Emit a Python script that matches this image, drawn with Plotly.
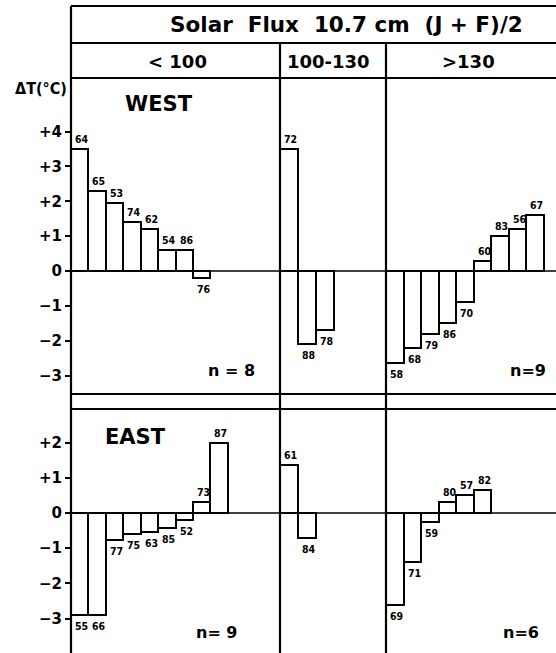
import plotly.graph_objects as go

W, H = 556, 653

# ---------------- data ----------------
flux_groups = ["< 100", "100-130", ">130"]
title_text = "Solar\u00a0 Flux\u00a0 10.7\u00a0cm\u00a0 (J\u00a0+\u00a0F)/2"

west_lt100_labels = ["64", "65", "53", "74", "62", "54", "86", "76"]
west_lt100_values = [3.5, 2.3, 1.95, 1.4, 1.2, 0.6, 0.6, -0.2]
west_mid_labels = ["72", "88", "78"]
west_mid_values = [3.5, -2.1, -1.7]
west_gt130_labels = ["58", "68", "79", "86", "70", "60", "83", "56", "67"]
west_gt130_values = [-2.65, -2.2, -1.8, -1.5, -0.9, 0.3, 1.0, 1.2, 1.6]

east_lt100_labels = ["55", "66", "77", "75", "63", "85", "52", "73", "87"]
east_lt100_values = [-2.9, -2.9, -0.78, -0.6, -0.55, -0.42, -0.2, 0.3, 2.0]
east_mid_labels = ["61", "84"]
east_mid_values = [1.35, -0.7]
east_gt130_labels = ["69", "71", "59", "80", "57", "82"]
east_gt130_values = [-2.6, -1.4, -0.25, 0.3, 0.5, 0.65]

n_west = ["n = 8", None, "n=9"]
n_east = ["n= 9", None, "n=6"]

west_tickvals = [4, 3, 2, 1, 0, -1, -2, -3]
west_ticktext = ["+4", "+3", "+2", "+1", "0", "\u22121", "\u22122", "\u22123"]
east_tickvals = [2, 1, 0, -1, -2, -3]
east_ticktext = ["+2", "+1", "0", "\u22121", "\u22122", "\u22123"]

# ---------------- layout geometry (pixels) ----------------
def px(x):
    return x / W

def py(y):
    return 1 - y / H

cols_px = [(71, 280), (280, 386), (386, 556)]
rows = [
    dict(name="WEST", px=(78, 394), yr=(-3.528, 5.537),
         series=[(west_lt100_labels, west_lt100_values),
                 (west_mid_labels, west_mid_values),
                 (west_gt130_labels, west_gt130_values)],
         n=n_west, tv=west_tickvals, tt=west_ticktext,
         n_pos=[(231, 370), None, (528, 370)], lab_pos=(123, 104)),
    dict(name="EAST", px=(409, 653), yr=(-3.977, 2.955),
         series=[(east_lt100_labels, east_lt100_values),
                 (east_mid_labels, east_mid_values),
                 (east_gt130_labels, east_gt130_values)],
         n=n_east, tv=east_tickvals, tt=east_ticktext,
         n_pos=[(217, 632), None, (521, 632)], lab_pos=(103, 437)),
]
xranges = [(-0.5, 11.5), (-0.5, 5.4), (-0.5, 9.19)]

FONT = "DejaVu Sans, Liberation Sans, Arial, sans-serif"
COND = "DejaVu Sans Condensed, Liberation Sans Narrow, DejaVu Sans, sans-serif"

fig = go.Figure()
layout = {}
annotations = []
shapes = []

k = 0
for r in rows:
    for c in range(3):
        k += 1
        xn = "x" if k == 1 else f"x{k}"
        yn = "y" if k == 1 else f"y{k}"
        xkey = "xaxis" if k == 1 else f"xaxis{k}"
        ykey = "yaxis" if k == 1 else f"yaxis{k}"
        labels, values = r["series"][c]
        fig.add_trace(go.Bar(
            x=list(range(len(values))), y=values, width=1,
            marker=dict(color="white", line=dict(color="black", width=2)),
            xaxis=xn, yaxis=yn, showlegend=False, hoverinfo="skip"))
        layout[xkey] = dict(domain=[px(cols_px[c][0]), px(cols_px[c][1])],
                            range=list(xranges[c]), anchor=yn, visible=False,
                            fixedrange=True)
        ydict = dict(domain=[py(r["px"][1]), py(r["px"][0])],
                     range=list(r["yr"]), anchor=xn, fixedrange=True,
                     showgrid=False, zeroline=False, showline=False)
        if c == 0:
            ydict.update(tickvals=r["tv"], ticktext=r["tt"], ticks="outside",
                         ticklen=5, tickwidth=2, tickcolor="black",
                         tickfont=dict(family=FONT, size=15, color="black",
                                       weight="bold"))
        else:
            ydict.update(showticklabels=False, ticks="")
        layout[ykey] = ydict
        for i, (lab, v) in enumerate(zip(labels, values)):
            annotations.append(dict(
                x=i - 0.5, y=v, xref=xn, yref=yn, text=lab, showarrow=False,
                xanchor="left", yanchor="bottom" if v > 0 else "top",
                xshift=2, yshift=2 if v > 0 else -3,
                font=dict(family=COND, size=10.5, color="black", weight="bold")))
        if r["n"][c]:
            nx, ny = r["n_pos"][c]
            annotations.append(dict(
                x=px(nx), y=py(ny), xref="paper", yref="paper", text=r["n"][c],
                showarrow=False, xanchor="center", yanchor="middle",
                font=dict(family=FONT, size=16, color="black", weight="bold")))
        if c == 0:
            shapes.append(dict(type="line", xref="paper", yref=yn,
                               x0=px(71), x1=1, y0=0, y1=0,
                               line=dict(color="black", width=1.6)))
    lx, ly = r["lab_pos"]
    annotations.append(dict(
        x=px(lx), y=py(ly), xref="paper", yref="paper", text=r["name"],
        showarrow=False, xanchor="left", yanchor="middle",
        font=dict(family=FONT, size=21, color="black", weight="bold")))

# header texts
annotations.append(dict(x=px(346), y=py(25), xref="paper", yref="paper",
                        text=title_text, showarrow=False, xanchor="center",
                        yanchor="middle",
                        font=dict(family=FONT, size=21.5, color="black",
                                  weight="bold")))
sub_centers = [177, 328, 468]
for g, cx in zip(flux_groups, sub_centers):
    annotations.append(dict(x=px(cx), y=py(61), xref="paper", yref="paper",
                            text=g, showarrow=False, xanchor="center",
                            yanchor="middle",
                            font=dict(family=FONT, size=18, color="black",
                                      weight="bold")))
annotations.append(dict(x=px(69), y=py(88), xref="paper", yref="paper",
                        text="\u0394T(\u00b0C)", showarrow=False,
                        xanchor="right", yanchor="middle",
                        font=dict(family=COND, size=16, color="black",
                                  weight="bold")))

# table frame lines
LW = 2.2
def hline(y, x0=71, x1=W):
    shapes.append(dict(type="line", xref="paper", yref="paper",
                       x0=px(x0), x1=px(x1), y0=py(y), y1=py(y),
                       line=dict(color="black", width=LW)))

def vline(x, y0, y1=H):
    shapes.append(dict(type="line", xref="paper", yref="paper",
                       x0=px(x), x1=px(x), y0=py(y0), y1=py(y1),
                       line=dict(color="black", width=LW)))

for y in [6, 43, 78, 394, 409]:
    hline(y)
vline(71, 6)
vline(280, 43)
vline(386, 43)

layout.update(width=W, height=H, autosize=False,
              margin=dict(l=0, r=0, t=0, b=0),
              plot_bgcolor="white", paper_bgcolor="white",
              bargap=0, annotations=annotations, shapes=shapes,
              showlegend=False)
fig.update_layout(**layout)
fig.write_html(
    "out.html",
    config={"displayModeBar": False},
    post_script="document.body.style.margin='0';document.body.style.overflow='hidden';",
)
